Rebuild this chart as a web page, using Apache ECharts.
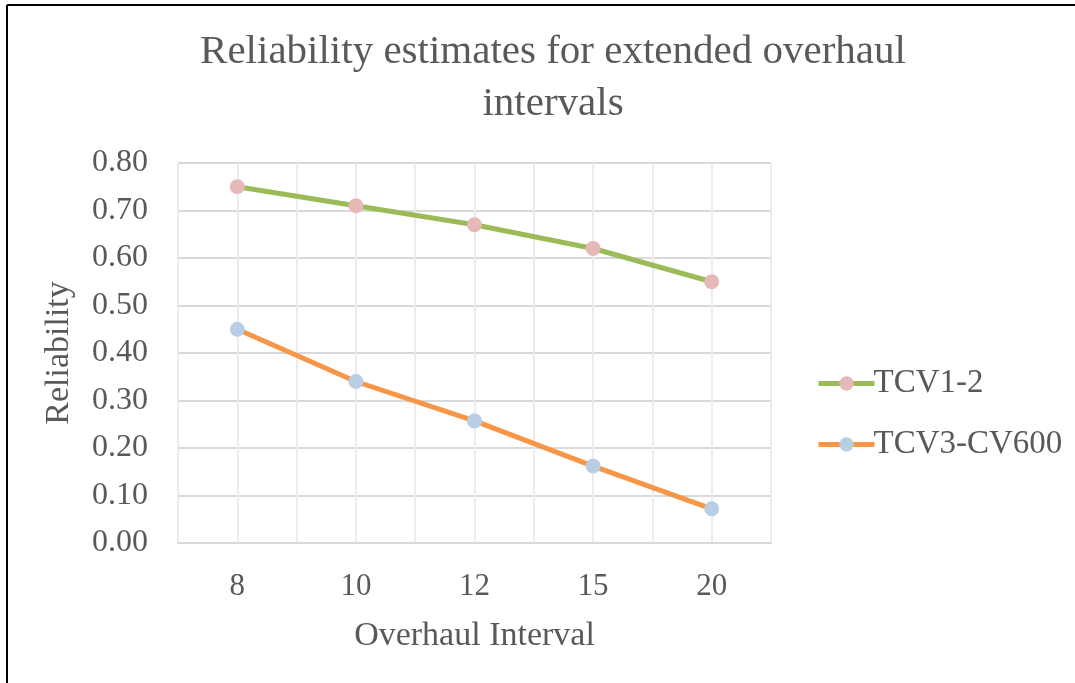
<!DOCTYPE html>
<html><head><meta charset="utf-8">
<script src="https://cdn.jsdelivr.net/npm/echarts@6/dist/echarts.min.js"></script>
<style>html,body{margin:0;padding:0;background:#fff}#c{width:1075px;height:683px}</style>
</head><body><div id="c"></div>
<script>
const categories = ['8', '10', '12', '15', '20'];
const tcv12 = [0.75, 0.71, 0.67, 0.62, 0.55];
const tcv3 = [0.45, 0.34, 0.257, 0.162, 0.072];
const halfSlots = ['', '', '', '', '', '', '', '', '', ''];
const FONT = 'Liberation Serif';
const TXT = '#595959';
const chart = echarts.init(document.getElementById('c'));
chart.setOption({
  backgroundColor: '#fff',
  animation: false,
  title: {
    text: 'Reliability estimates for extended overhaul\nintervals',
    left: 548, top: 21, textAlign: 'center',
    textStyle: { fontFamily: FONT, fontWeight: 'normal', fontSize: 41, color: TXT, lineHeight: 52 }
  },
  graphic: [
    { type: 'line', shape: { x1: 7, y1: 5, x2: 1075, y2: 5 }, style: { stroke: '#000', lineWidth: 2 } },
    { type: 'line', shape: { x1: 7, y1: 5, x2: 7, y2: 683 }, style: { stroke: '#000', lineWidth: 2 } }
  ],
  legend: {
    orient: 'vertical', left: 811, top: 362, itemGap: 28,
    itemWidth: 56, itemHeight: 18,
    textStyle: { fontFamily: FONT, fontSize: 33, color: TXT, padding: [0, 0, 0, -6] },
    data: [
      { name: 'TCV1-2', lineStyle: { width: 5 } },
      { name: 'TCV3-CV600', lineStyle: { width: 5 } }
    ]
  },
  grid: { left: 178, top: 163, width: 593, height: 380 },
  xAxis: [{
    type: 'category', data: categories, boundaryGap: true,
    axisLine: { show: true, lineStyle: { color: '#d9d9d9', width: 2 } },
    axisTick: { show: false },
    splitLine: { show: false },
    axisLabel: { fontFamily: FONT, fontSize: 31, color: TXT, margin: 28 },
    name: 'Overhaul Interval', nameLocation: 'middle', nameGap: 76,
    nameTextStyle: { fontFamily: FONT, fontSize: 34, color: TXT }
  }, {
    type: 'category', data: halfSlots, boundaryGap: true, position: 'bottom',
    axisLine: { show: false }, axisTick: { show: false }, axisLabel: { show: false },
    splitLine: { show: true, interval: 0, lineStyle: { color: '#ececec', width: 2 } },
    z: 0
  }],
  yAxis: {
    type: 'value', min: 0, max: 0.8, interval: 0.1,
    axisLine: { show: false }, axisTick: { show: false },
    splitLine: { show: true, lineStyle: { color: '#d9d9d9', width: 2 } },
    axisLabel: { fontFamily: FONT, fontSize: 32, color: TXT, margin: 30, formatter: v => v.toFixed(2) },
    name: 'Reliability', nameLocation: 'middle', nameGap: 102,
    nameTextStyle: { fontFamily: FONT, fontSize: 34, color: TXT }
  },
  series: [{
    name: 'TCV1-2', type: 'line', data: tcv12, xAxisIndex: 0,
    lineStyle: { color: '#9bbb59', width: 5 },
    itemStyle: { color: '#e6b9b8', borderWidth: 0 },
    symbol: 'circle', symbolSize: 15, z: 3
  }, {
    name: 'TCV3-CV600', type: 'line', data: tcv3, xAxisIndex: 0,
    lineStyle: { color: '#f79646', width: 5 },
    itemStyle: { color: '#b9cde5', borderWidth: 0 },
    symbol: 'circle', symbolSize: 15, z: 3
  }]
});
</script></body></html>
